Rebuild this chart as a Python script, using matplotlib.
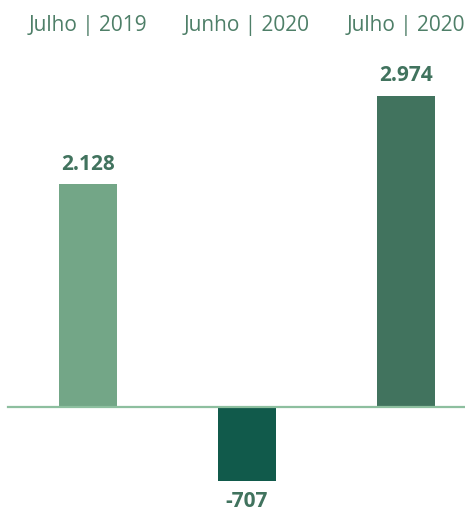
import matplotlib.pyplot as plt

categories = ["Julho | 2019", "Junho | 2020", "Julho | 2020"]
values = [2128, -707, 2974]
labels = ["2.128", "-707", "2.974"]
colors = ["#73a687", "#115a4b", "#41735e"]

plt.rcParams['font.family'] = ['Open Sans', 'DejaVu Sans']

fig = plt.figure(figsize=(4.65, 5.14), dpi=100)
ax = fig.add_axes([0, 0, 1, 1])

x = range(len(categories))
ax.bar(x, values, width=0.37, color=colors, zorder=2)

# eixo zero
ax.plot([-0.503, 2.371], [0, 0], color="#8dbf9f", lw=1.6, zorder=3, clip_on=False)

for i, (v, lab) in enumerate(zip(values, labels)):
    if v >= 0:
        ax.annotate(lab, (i, v), xytext=(0, 7), textcoords="offset points",
                    ha="center", va="bottom", fontsize=15, fontweight="bold", color="#41735e")
    else:
        ax.annotate(lab, (i, v), xytext=(0, -7), textcoords="offset points",
                    ha="center", va="top", fontsize=15, fontweight="bold", color="#41735e")

for i, cat in enumerate(categories):
    ax.text(i, 1 - 25 / 514, cat, transform=ax.get_xaxis_transform(),
            ha="center", va="center", fontsize=15, color="#4e7f68")

ax.set_xlim(-0.553, 2.371)
ax.set_ylim(-1023, 3892)
ax.axis("off")

plt.savefig("out.png", dpi=100)
